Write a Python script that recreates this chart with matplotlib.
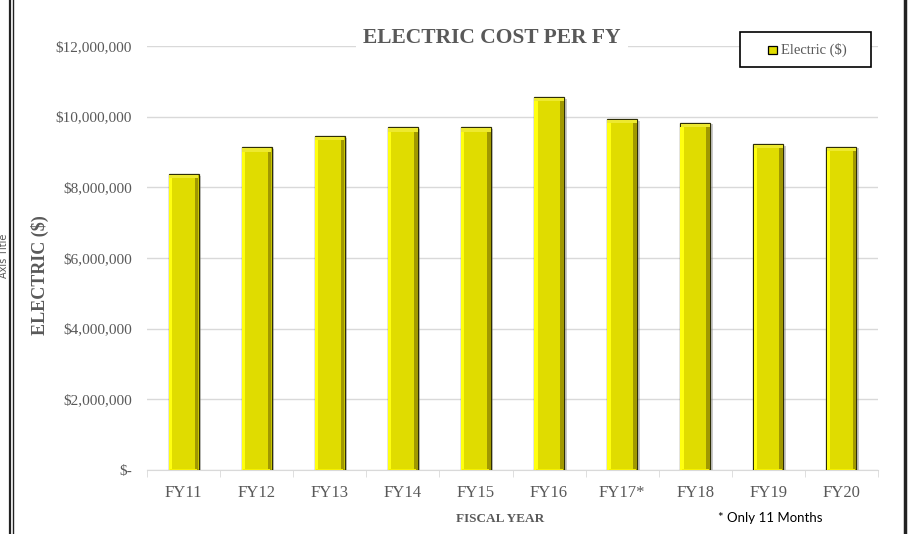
import numpy as np
import matplotlib.pyplot as plt
from matplotlib.patches import Rectangle
from matplotlib.lines import Line2D
from matplotlib.ticker import FuncFormatter

# data
years = ['FY11', 'FY12', 'FY13', 'FY14', 'FY15', 'FY16', 'FY17*', 'FY18', 'FY19', 'FY20']
electric = [8.38e6, 9.13e6, 9.46e6, 9.70e6, 9.70e6, 10.55e6, 9.93e6, 9.83e6, 9.23e6, 9.15e6]
y_ticks = [0, 2e6, 4e6, 6e6, 8e6, 10e6, 12e6]

serif = 'Liberation Serif'
grey = '#595959'

fig = plt.figure(figsize=(9.09, 5.34), dpi=100)
ax = fig.add_axes([147 / 909, 1 - 470 / 534, (878 - 147) / 909, (470 - 46) / 534])

x = np.arange(len(years))
vals = np.array(electric)
w = 0.41
bev = 0.12e6  # top bevel height

# shadow, body, highlights
ax.bar(x + 0.035, vals - 0.05e6, w, color='#8a8a8a', alpha=0.45, zorder=2, linewidth=0)
ax.bar(x, vals, w, color='#E0DC00', edgecolor='#2e2e05', linewidth=0.9, zorder=3)
ax.bar(x - w / 2 + w * 0.06, vals - bev, w * 0.11, color='#FFFF10', linewidth=0, zorder=4)
ax.bar(x + w / 2 - w * 0.07, vals - bev, w * 0.12, color='#A09800', linewidth=0, zorder=4)
ax.bar(x, bev * 0.8, w * 0.98, bottom=vals - bev, color='#EDE930', linewidth=0, zorder=4)
ax.bar(x, bev * 0.35, w * 0.9, bottom=0, color='#F4F000', linewidth=0, zorder=4)

ax.set_xlim(-0.5, len(years) - 0.5)
ax.set_ylim(0, 12e6)
ax.set_yticks(y_ticks)
ax.yaxis.set_major_formatter(FuncFormatter(lambda v, p: '$-' if v == 0 else '${:,.0f}'.format(v)))
ax.grid(axis='y', color='#D9D9D9', linewidth=1, zorder=0)
ax.set_axisbelow(True)

ax.set_xticks(x)
ax.set_xticklabels(years)
ax.set_xticks(np.arange(-0.5, len(years)), minor=True)
ax.tick_params(axis='x', which='major', length=0, pad=11, labelsize=12, labelcolor=grey)
ax.tick_params(axis='x', which='minor', length=5, color='#D9D9D9')
ax.tick_params(axis='y', length=0, pad=11, labelsize=11, labelcolor=grey)
for lab in ax.get_xticklabels() + ax.get_yticklabels():
    lab.set_family(serif)

for s in ['top', 'right', 'left']:
    ax.spines[s].set_visible(False)
ax.spines['bottom'].set_color('#D9D9D9')

# titles
fig.text(492 / 909, 1 - 38 / 534, 'ELECTRIC COST PER FY', ha='center', va='center',
         family=serif, fontweight='bold', fontsize=15.5, color=grey,
         bbox=dict(facecolor='white', edgecolor='none', pad=5))
fig.text(40 / 909, 1 - 275 / 534, 'ELECTRIC ($)', rotation=90, ha='center', va='center',
         family=serif, fontweight='bold', fontsize=13, color=grey)
fig.text(500 / 909, 1 - 519 / 534, 'FISCAL YEAR', ha='center', va='center',
         family=serif, fontweight='bold', fontsize=9.5, color=grey)
fig.text(770 / 909, 1 - 518 / 534, '* Only 11 Months', ha='center', va='center',
         family='Lato', fontsize=9.5, color='black')
fig.text(4 / 909, 1 - 256 / 534, 'Axis Title', rotation=90, ha='center', va='center',
         family='DejaVu Sans', fontsize=7, color=grey)

# legend box
fig.patches.append(Rectangle((740 / 909, 1 - 67 / 534), 131 / 909, 35 / 534,
                             transform=fig.transFigure, facecolor='white',
                             edgecolor='black', linewidth=1.2, zorder=5))
fig.patches.append(Rectangle((768 / 909, 1 - 54 / 534), 9 / 909, 8 / 534,
                             transform=fig.transFigure, facecolor='#E0DC00',
                             edgecolor='black', linewidth=0.9, zorder=6))
fig.text(781 / 909, 1 - 50 / 534, 'Electric ($)', ha='left', va='center',
         family=serif, fontsize=10.5, color=grey, zorder=7)

# outer frame lines
for xx, lw in [(9.5, 1.6), (12.5, 1.0), (904.5, 2.5)]:
    fig.add_artist(Line2D([xx / 909, xx / 909], [0, 1], transform=fig.transFigure,
                          color='#222222', linewidth=lw))

fig.savefig('out.png', dpi=100)
